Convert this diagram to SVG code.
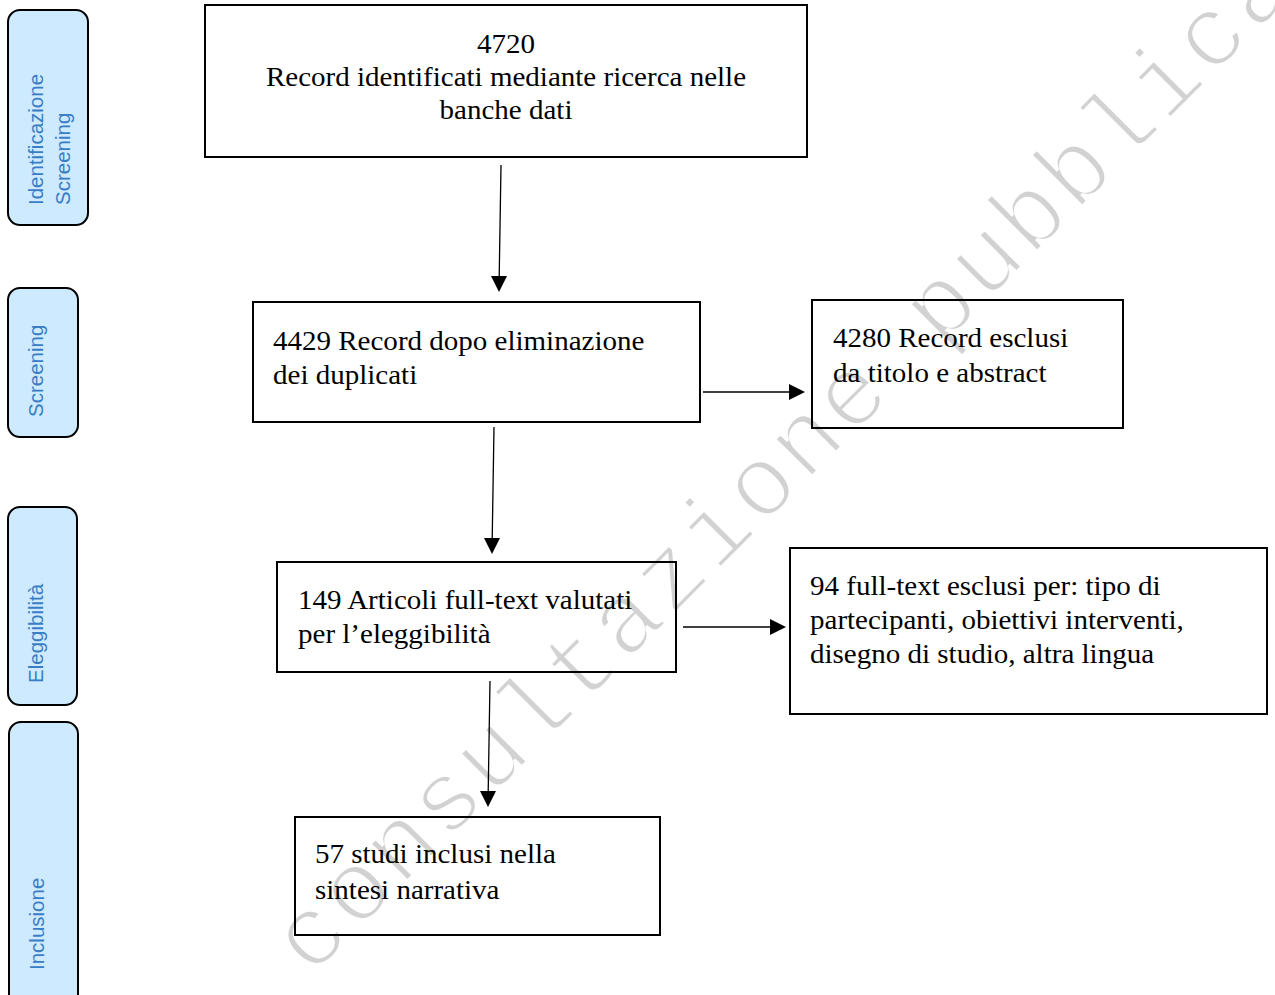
<svg xmlns="http://www.w3.org/2000/svg" width="1275" height="995" viewBox="0 0 1275 995">
<style>
.wm{font-family:"Liberation Mono","DejaVu Sans Mono",monospace;font-size:101px;letter-spacing:3px;fill:#d2d2d2;stroke:#fff;stroke-width:3.5px}
.side rect{fill:#cdeaff;stroke:#000;stroke-width:2}
.side text{font-family:"Liberation Sans",Arial,sans-serif;font-size:20.5px;fill:#3a7dc4}
.box rect{fill:none;stroke:#000;stroke-width:2}
.box text{font-family:"Liberation Serif","Times New Roman",serif;font-size:27px;fill:#000}
.conn line{stroke:#000;stroke-width:1.3}
.conn polygon{fill:#000}
</style>
<rect width="1275" height="995" fill="#fff"/>
<text class="wm" transform="translate(311,978) rotate(-45)">consultazione pubblica</text>

<g id="side-identificazione" class="side">
<rect x="8" y="10" width="80" height="215" rx="12"/>
<text transform="translate(43,205) rotate(-90)">Identificazione</text>
<text transform="translate(70,205) rotate(-90)">Screening</text>
</g>
<g id="side-screening" class="side">
<rect x="8" y="288" width="70" height="149" rx="12"/>
<text transform="translate(43,417) rotate(-90)">Screening</text>
</g>
<g id="side-eleggibilita" class="side">
<rect x="8" y="507" width="69" height="198" rx="12"/>
<text transform="translate(43,683) rotate(-90)">Eleggibilità</text>
</g>
<g id="side-inclusione" class="side">
<rect x="9" y="722" width="69" height="290" rx="12"/>
<text transform="translate(44,970) rotate(-90)">Inclusione</text>
</g>

<g id="node-4720" class="box">
<rect x="205" y="5" width="602" height="152"/>
<text transform="translate(506,53) scale(1.075,1)" text-anchor="middle"><tspan x="0" y="0">4720</tspan><tspan x="0" y="33">Record identificati mediante ricerca nelle</tspan><tspan x="0" y="66">banche dati</tspan></text>
</g>
<g id="node-4429" class="box">
<rect x="253" y="302" width="447" height="120"/>
<text transform="translate(273,350) scale(1.075,1)"><tspan x="0" y="0">4429 Record dopo eliminazione</tspan><tspan x="0" y="34">dei duplicati</tspan></text>
</g>
<g id="node-4280" class="box">
<rect x="812" y="300" width="311" height="128"/>
<text transform="translate(833,347) scale(1.075,1)"><tspan x="0" y="0">4280 Record esclusi</tspan><tspan x="0" y="35">da titolo e abstract</tspan></text>
</g>
<g id="node-149" class="box">
<rect x="277" y="562" width="399" height="110"/>
<text transform="translate(298,609) scale(1.075,1)"><tspan x="0" y="0">149 Articoli full-text valutati</tspan><tspan x="0" y="34">per l’eleggibilità</tspan></text>
</g>
<g id="node-94" class="box">
<rect x="790" y="548" width="477" height="166"/>
<text transform="translate(810,595) scale(1.075,1)"><tspan x="0" y="0">94 full-text esclusi per: tipo di</tspan><tspan x="0" y="34">partecipanti, obiettivi interventi,</tspan><tspan x="0" y="68">disegno di studio, altra lingua</tspan></text>
</g>
<g id="node-57" class="box">
<rect x="295" y="817" width="365" height="118"/>
<text transform="translate(315,863) scale(1.075,1)"><tspan x="0" y="0">57 studi inclusi nella</tspan><tspan x="0" y="36">sintesi narrativa</tspan></text>
</g>

<g id="connectors" class="conn">
<line x1="501" y1="165" x2="499.2" y2="277"/>
<polygon points="491,276 507,276 499,292"/>
<line x1="703" y1="392" x2="790" y2="392"/>
<polygon points="789,384 789,400 805,392"/>
<line x1="494" y1="427" x2="492.2" y2="539"/>
<polygon points="484,538 500,538 492,554"/>
<line x1="683" y1="627" x2="771" y2="627"/>
<polygon points="770,619 770,635 786,627"/>
<line x1="490" y1="681" x2="488.2" y2="792"/>
<polygon points="480,791 496,791 488,807"/>
</g>
</svg>
